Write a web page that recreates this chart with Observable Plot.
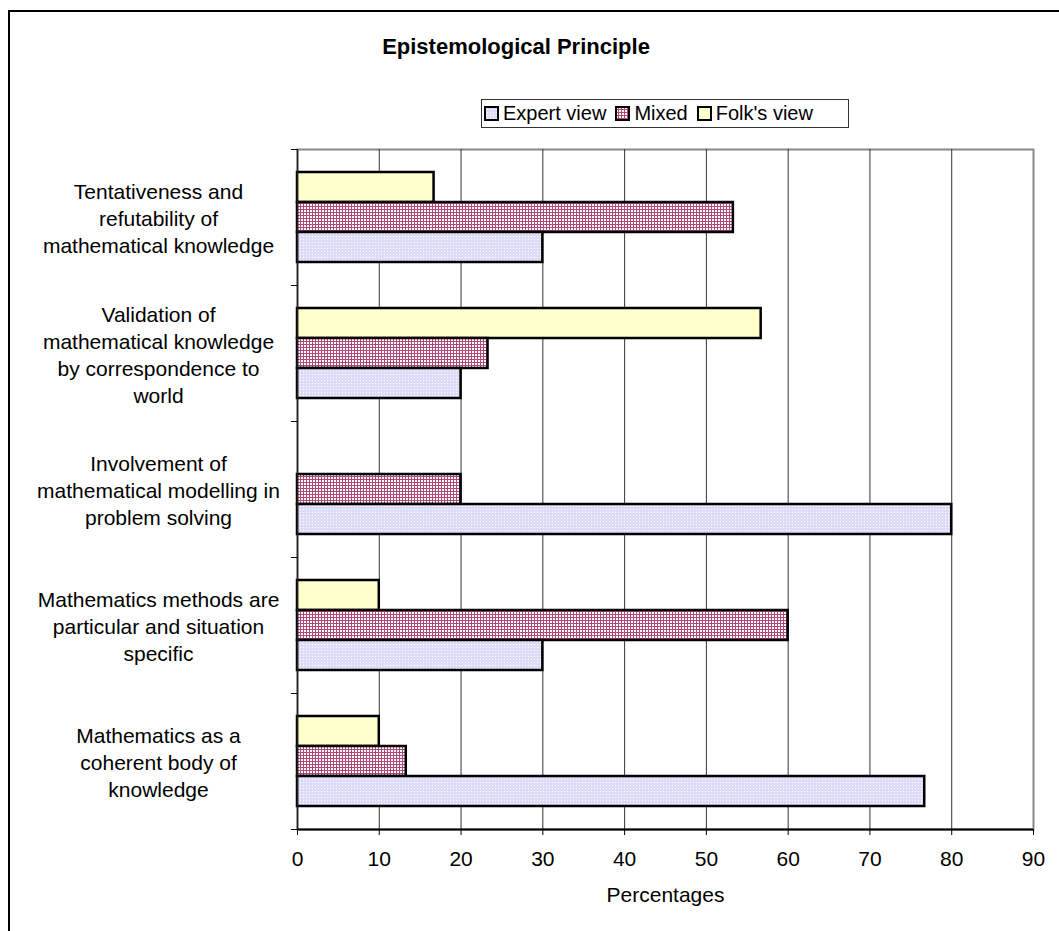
<!DOCTYPE html>
<html>
<head>
<meta charset="utf-8">
<script src="https://cdn.jsdelivr.net/npm/d3@7"></script>
<script src="https://cdn.jsdelivr.net/npm/@observablehq/plot@0.6"></script>
<style>
  html, body { margin: 0; padding: 0; background: #fff; overflow: hidden; width: 1059px; height: 931px; }
  body { position: relative; font-family: "Liberation Sans", Arial, sans-serif; }
  #outer { position: absolute; left: 8px; top: 10px; width: 1200px; height: 1100px; border-top: 2px solid #000; border-left: 2px solid #000; pointer-events: none; }
  #title { position: absolute; left: 0; width: 1032px; top: 36px; text-align: center; font-size: 22px; line-height: 22px; font-weight: bold; color: #000; }
  #legend { position: absolute; left: 481px; top: 99px; width: 368px; height: 29px; border: 1px solid #333; display: flex; align-items: center; font-size: 20px; color: #000; box-sizing: border-box; padding-left: 2px; }
  #legend .item { display: flex; align-items: center; margin-right: 9px; }
  #legend svg { margin-right: 4px; }
  #chart { position: absolute; left: 0; top: 140px; }
</style>
</head>
<body>
<div id="title"></div>
<div id="legend"></div>
<div id="chart"></div>
<div id="outer"></div>
<script>
const title = "Epistemological Principle";
const categories = [
  "Tentativeness and\nrefutability of\nmathematical knowledge",
  "Validation of\nmathematical knowledge\nby correspondence to\nworld",
  "Involvement of\nmathematical modelling in\nproblem solving",
  "Mathematics methods are\nparticular and situation\nspecific",
  "Mathematics as a\ncoherent body of\nknowledge"
];
const seriesNames = ["Expert view", "Mixed", "Folk's view"];
const expert = [30, 20, 80, 30, 76.7];
const mixed = [53.3, 23.3, 20, 60, 13.3];
const folk = [16.7, 56.7, 0, 10, 10];
const xTicks = [0, 10, 20, 30, 40, 50, 60, 70, 80, 90];
const xLabel = "Percentages";

const fills = {"Expert view": "url(#pat-expert)", "Mixed": "url(#pat-mixed)", "Folk's view": "#ffffcc"};

function rows(values, series) {
  return categories.map((c, i) => ({category: c, value: values[i], series})).filter(d => d.value > 0);
}

document.getElementById("title").textContent = title;

const lastCat = categories[categories.length - 1];
const halfStep = 68;

const svg = Plot.plot({
  width: 1059,
  height: 791,
  marginLeft: 297,
  marginRight: 26,
  marginTop: 9,
  marginBottom: 102,
  style: {fontFamily: "'Liberation Sans', Arial, sans-serif", fontSize: "21px", color: "#000", background: "transparent"},
  x: {domain: [0, 90], ticks: xTicks, label: null},
  y: {domain: categories, paddingInner: 0.338, paddingOuter: 0.169, align: 0.5, label: null},
  marks: [
    Plot.frame({stroke: "#888", strokeWidth: 2}),
    Plot.ruleX(xTicks.filter(t => t > 0 && t < 90), {stroke: "#333", strokeWidth: 1}),
    Plot.barX(rows(folk, "Folk's view"), {x: "value", y: "category", fill: fills["Folk's view"], stroke: "#000", strokeWidth: 2.5, insetBottom: 60}),
    Plot.barX(rows(mixed, "Mixed"), {x: "value", y: "category", fill: fills["Mixed"], stroke: "#000", strokeWidth: 2.5, insetTop: 30, insetBottom: 30}),
    Plot.barX(rows(expert, "Expert view"), {x: "value", y: "category", fill: fills["Expert view"], stroke: "#000", strokeWidth: 2.5, insetTop: 60}),
    Plot.ruleX([0], {stroke: "#222", strokeWidth: 1.5}),
    Plot.ruleY([lastCat], {stroke: "#000", strokeWidth: 2, dy: halfStep}),
    Plot.axisX({ticks: xTicks, tickSize: 6, tickPadding: 16, fontSize: 21, label: null, stroke: "#000"}),
    Plot.axisY({tickSize: 6, tickFormat: () => "", dy: -halfStep, label: null, stroke: "#000"}),
    Plot.axisY([lastCat], {tickSize: 6, tickFormat: () => "", dy: halfStep, label: null, stroke: "#000"}),
    Plot.axisY({tickSize: 0, tickPadding: 139, textAnchor: "middle", lineHeight: 1.29, fontSize: 21, label: null}),
    Plot.text([xLabel], {text: d => d, frameAnchor: "bottom", lineAnchor: "middle", dy: 66, fontSize: 21, fill: "#000"})
  ]
});

// patterns
const defs = d3.select(svg).insert("defs", ":first-child");
const pe = defs.append("pattern").attr("id", "pat-expert").attr("patternUnits", "userSpaceOnUse").attr("width", 3).attr("height", 3);
pe.append("rect").attr("width", 3).attr("height", 3).attr("fill", "#dcdcf8");
pe.append("rect").attr("width", 1).attr("height", 1).attr("fill", "#ffffff");
const pm = defs.append("pattern").attr("id", "pat-mixed").attr("patternUnits", "userSpaceOnUse").attr("width", 3).attr("height", 3);
pm.append("rect").attr("width", 3).attr("height", 3).attr("fill", "#ffffff");
pm.append("rect").attr("width", 3).attr("height", 1).attr("fill", "#b0487a");
pm.append("rect").attr("width", 1).attr("height", 3).attr("fill", "#b0487a");

document.getElementById("chart").appendChild(svg);

// legend
const legend = d3.select("#legend");
seriesNames.forEach(name => {
  const it = legend.append("div").attr("class", "item");
  const s = it.append("svg").attr("width", 15).attr("height", 15);
  s.append("rect").attr("x", 1).attr("y", 1).attr("width", 13).attr("height", 13)
    .attr("fill", fills[name]).attr("stroke", "#000").attr("stroke-width", 2);
  it.append("span").text(name);
});
</script>
</body>
</html>
